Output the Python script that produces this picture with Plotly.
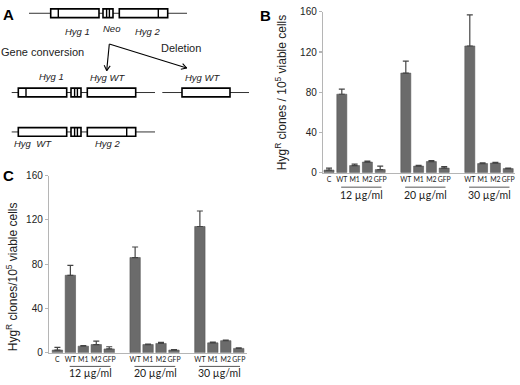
import plotly.graph_objects as go
import math

# ---------------- data ----------------
control_label = "C"
strains = ["WT", "M1", "M2", "GFP"]
doses = ["12 µg/ml", "20 µg/ml", "30 µg/ml"]
y_ticks = [0, 40, 80, 120, 160]

# Panel B
b_control = 2.5
b_control_err = 2.0
b_12 = [78, 7, 10.5, 3]
b_12_err = [5, 1.5, 1, 3.5]
b_20 = [99, 6.5, 11, 4.5]
b_20_err = [12, 0.7, 1, 1.5]
b_30 = [126, 9, 9.5, 4]
b_30_err = [31, 0.7, 0.8, 0.5]

# Panel C
c_control = 2.5
c_control_err = 2.5
c_12 = [70, 6, 7.5, 3.5]
c_12_err = [9, 0.5, 3, 2]
c_20 = [86, 7.5, 8.5, 2.5]
c_20_err = [9.5, 0.5, 1, 0.5]
c_30 = [114, 9, 11, 4]
c_30_err = [14, 0.8, 0.5, 0.5]

W, H = 520, 385


def px(x):
    return x / W


def py(y):
    return 1 - y / H


def build(control, control_err, groups, group_errs):
    xs, ys, es, labels = [0], [control], [control_err], [control_label]
    for g, (vals, errs) in enumerate(zip(groups, group_errs)):
        for i, (v, e) in enumerate(zip(vals, errs)):
            xs.append(1 + 5 * g + i)
            ys.append(v)
            es.append(e)
            labels.append(strains[i])
    return xs, ys, es, labels


bx, by, be, bl = build(b_control, b_control_err, [b_12, b_20, b_30], [b_12_err, b_20_err, b_30_err])
cx, cy, ce, cl = build(c_control, c_control_err, [c_12, c_20, c_30], [c_12_err, c_20_err, c_30_err])

BAR = "#6b6b6b"
AXC = "#b5b5b5"
TXT = "#222222"
FONT = "Liberation Sans"
NARROW = "Liberation Sans Narrow, Lato"

fig = go.Figure()
fig.add_trace(go.Bar(
    x=bx, y=by, width=0.78, xaxis="x", yaxis="y",
    marker=dict(color=BAR, line=dict(color="#555555", width=0.6)),
    error_y=dict(type="data", array=be, arrayminus=[0] * len(be), symmetric=False,
                 color="#444444", thickness=1.2, width=3),
    showlegend=False, hoverinfo="skip",
))
fig.add_trace(go.Bar(
    x=cx, y=cy, width=0.8, xaxis="x2", yaxis="y2",
    marker=dict(color=BAR, line=dict(color="#555555", width=0.6)),
    error_y=dict(type="data", array=ce, arrayminus=[0] * len(ce), symmetric=False,
                 color="#444444", thickness=1.2, width=3),
    showlegend=False, hoverinfo="skip",
))

xaxis_common = dict(showline=True, linecolor=AXC, linewidth=1.2, ticks="", showgrid=False,
                    zeroline=False, tickfont=dict(family=NARROW, size=6.9, color=TXT),
                    tickangle=0, fixedrange=True)
yaxis_common = dict(showline=True, linecolor=AXC, linewidth=1.2, ticks="outside", ticklen=3,
                    tickcolor=AXC, tickwidth=1.2, showgrid=False, zeroline=False,
                    tickvals=y_ticks, range=[0, 160],
                    tickfont=dict(family=FONT, size=10, color=TXT), fixedrange=True)

fig.update_layout(
    width=W, height=H, margin=dict(l=0, r=0, t=0, b=0),
    paper_bgcolor="white", plot_bgcolor="white", bargap=0,
    xaxis=dict(domain=[px(323), px(514.6)], range=[-0.47, 14.5], anchor="y",
               tickvals=bx, ticktext=bl, **xaxis_common),
    yaxis=dict(domain=[py(172), py(6)], anchor="x", **yaxis_common),
    xaxis2=dict(domain=[px(49), px(246.5)], range=[-0.65, 14.6], anchor="y2",
                tickvals=cx, ticktext=cl, **xaxis_common),
    yaxis2=dict(domain=[py(358), py(175)], anchor="x2", **yaxis_common),
)

annotations = []
shapes = []

# axis titles
annotations.append(dict(text="Hyg<sup>R</sup> clones / 10<sup>5</sup> viable cells",
                         x=px(281), y=py(90), xref="paper", yref="paper", textangle=-90,
                         showarrow=False, xanchor="center", yanchor="middle",
                         font=dict(family=FONT, size=12, color=TXT)))
annotations.append(dict(text="Hyg<sup>R</sup> clones/10<sup>5</sup> viable cells",
                         x=px(12), y=py(280), xref="paper", yref="paper", textangle=-90,
                         showarrow=False, xanchor="center", yanchor="middle",
                         font=dict(family=FONT, size=12, color=TXT)))

# dose group labels + underlines
for xr, uy, ty in (("x", 187, 195.5), ("x2", 372, 379.3)):
    for g, dose in enumerate(doses):
        x0 = 1 + 5 * g
        x1 = x0 + len(strains) - 1
        shapes.append(dict(type="line", xref=xr, yref="paper", x0=x0 - 0.05, x1=x1 + 0.1,
                           y0=py(uy), y1=py(uy), line=dict(color="#555555", width=1)))
        annotations.append(dict(text=dose, x=(x0 + x1) / 2 + 0.05, y=py(ty), xref=xr, yref="paper",
                                showarrow=False, xanchor="center", yanchor="middle",
                                font=dict(family="Lato", size=10.5, color=TXT)))

# panel letters
for letter, (lx, ly) in (("A", (8, 9)), ("B", (265, 10)), ("C", (8, 175))):
    annotations.append(dict(text="<b>%s</b>" % letter, x=px(lx), y=py(ly), xref="paper", yref="paper",
                            showarrow=False, xanchor="center", yanchor="middle",
                            font=dict(family=FONT, size=15, color="black")))

# ---------------- panel A: schematic ----------------
HALF = 4.5


def line(x0, y0, x1, y1, color="black", width=1.0):
    shapes.append(dict(type="line", xref="paper", yref="paper", x0=px(x0), x1=px(x1),
                       y0=py(y0), y1=py(y1), line=dict(color=color, width=width)))


def construct(yc, x0, x1, boxes):
    line(x0, yc, x1, yc, color="#333333", width=1)
    for bx0, bx1, inner in boxes:
        shapes.append(dict(type="rect", xref="paper", yref="paper", x0=px(bx0), x1=px(bx1),
                           y0=py(yc + HALF), y1=py(yc - HALF), fillcolor="white",
                           line=dict(color="black", width=1.6)))
        for ix in inner:
            line(ix, yc + HALF, ix, yc - HALF, width=1.4)


construct(7.5, 29, 187, [(50.7, 99, [58.3]), (103, 113, [106.6, 109.4]), (119.3, 167.7, [158.3])])
construct(89.3, 11.7, 155, [(18.3, 66.7, [26]), (71, 81, [74.6, 77.4]), (87.3, 135.7, [])])
construct(89.3, 162.3, 249, [(182, 230, [])])
construct(130, 11.7, 155, [(18.3, 66.7, []), (71, 81, [74.6, 77.4]), (87.3, 135.7, [126.7])])


def label(text, x, y, size=9.5, italic=True):
    t = "<i>%s</i>" % text if italic else text
    annotations.append(dict(text=t, x=px(x), y=py(y), xref="paper", yref="paper", showarrow=False,
                            xanchor="center", yanchor="middle",
                            font=dict(family=FONT, size=size, color=TXT)))


label("Hyg 1", 77.7, 26.7)
label("Neo", 111.7, 23.5)
label("Hyg 2", 148.3, 26.7)
label("Gene conversion", 42, 47.3, size=11, italic=False)
label("Deletion", 181, 43.3, size=11, italic=False)
label("Hyg 1", 51.7, 72.7)
label("Hyg WT", 107.7, 73.3)
label("Hyg WT", 203.3, 73.3)
label("Hyg&nbsp;&nbsp;WT", 32.7, 141.7)
label("Hyg 2", 107.7, 142.3)

# arrows: shaft + open V head drawn as lines
tail = (109.3, 39.3)
for hx, hy in ((106.7, 66.7), (186.7, 64)):
    line(tail[0], tail[1], hx, hy, width=1.1)
    ang = math.atan2(hy - tail[1], hx - tail[0])
    for d in (math.radians(150), math.radians(-150)):
        line(hx, hy, hx + 6 * math.cos(ang + d), hy + 6 * math.sin(ang + d), width=1.1)

fig.update_layout(annotations=annotations, shapes=shapes)
fig.write_html("out.html", config={"displayModeBar": False, "staticPlot": True},
               post_script="document.body.style.margin='0';document.body.style.padding='0';"
                           "document.body.style.overflow='hidden';")
